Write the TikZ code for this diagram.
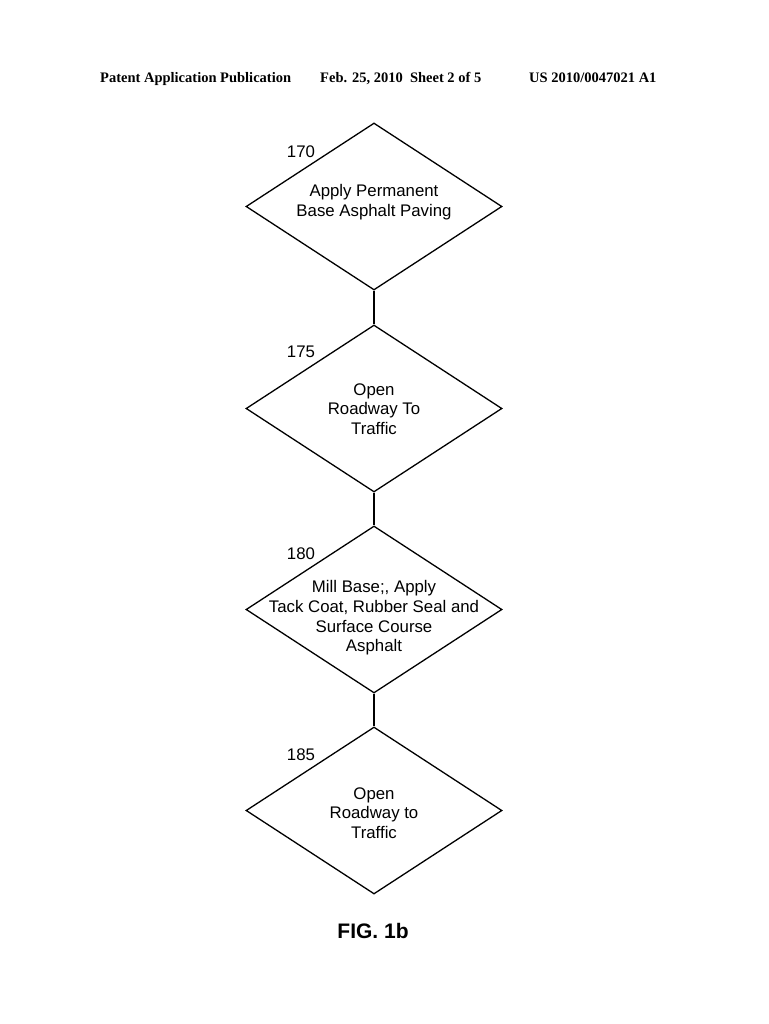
\documentclass[tikz,border=0pt]{standalone}
\usepackage{fontspec}
\setmainfont{Liberation Sans}
\newfontfamily\hdrfont{Liberation Serif}
\usetikzlibrary{shapes.geometric}
\begin{document}
\begin{tikzpicture}[x=1pt,y=-1pt,
  dia/.style={draw,line width=1.3pt,shape=diamond,inner sep=0pt,minimum width=256pt,minimum height=167pt},
  txt/.style={align=center,font=\fontsize{16.8}{19.6}\selectfont,inner sep=0pt},
  num/.style={font=\fontsize{16.8}{19}\selectfont,inner sep=0pt},
  hdr/.style={font=\hdrfont\bfseries\fontsize{14.5}{16}\selectfont,inner sep=0pt,anchor=base west},
  conn/.style={line width=1.3pt}]
\useasboundingbox (0,0) rectangle (768,1024);
\node[hdr] (h1) at (100,83) {Patent Application Publication};
\node[hdr] (h2) at (320,83) {Feb. 25, 2010\ \ Sheet 2 of 5};
\node[hdr] (h3) at (529,83) {US 2010/0047021 A1};

\node[dia] (d1) at (374,206.5) {};
\node[dia] (d2) at (374,408.5) {};
\node[dia] (d3) at (374,609.5) {};
\node[dia] (d4) at (374,810.5) {};

\node[txt] (t1) at (374,202) {Apply Permanent\\Base Asphalt Paving};
\node[txt] (t2) at (374,409) {Open\\Roadway To\\Traffic};
\node[txt] (t3) at (374,618) {Mill Base;, Apply\\Tack Coat, Rubber Seal and\\Surface Course\\Asphalt};
\node[txt] (t4) at (374,813) {Open\\Roadway to\\Traffic};

\node[num] (n1) at (301,152) {170};
\node[num] (n2) at (301,352) {175};
\node[num] (n3) at (301,554) {180};
\node[num] (n4) at (301,755) {185};

\draw[conn] (d1.south) -- (d2.north);
\draw[conn] (d2.south) -- (d3.north);
\draw[conn] (d3.south) -- (d4.north);

\node[font=\bfseries\fontsize{21}{24}\selectfont,inner sep=0pt] (fig) at (373,931) {FIG. 1b};
\end{tikzpicture}
\end{document}
